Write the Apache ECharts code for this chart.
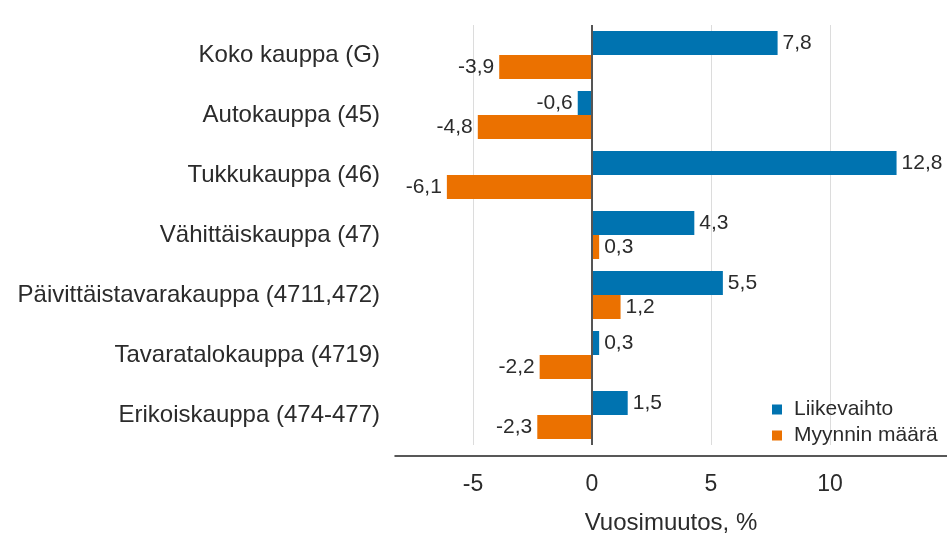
<!DOCTYPE html>
<html>
<head>
<meta charset="utf-8">
<script src="https://cdn.jsdelivr.net/npm/echarts@6/dist/echarts.min.js"></script>
<style>
  html, body { margin: 0; padding: 0; background: #fff; }
  #chart { width: 947px; height: 533px; }
</style>
</head>
<body>
<div id="chart"></div>
<script>
// toimialat ylhäältä alas
var categories = [
    'Koko kauppa (G)',
    'Autokauppa (45)',
    'Tukkukauppa (46)',
    'Vähittäiskauppa (47)',
    'Päivittäistavarakauppa (4711,472)',
    'Tavaratalokauppa (4719)',
    'Erikoiskauppa (474-477)'
];
var liikevaihto = [7.8, -0.6, 12.8, 4.3, 5.5, 0.3, 1.5];
var myynninMaara = [-3.9, -4.8, -6.1, 0.3, 1.2, -2.2, -2.3];
var seriesNames = ['Liikevaihto', 'Myynnin määrä'];
var axisTitle = 'Vuosimuutos, %';

var fontFamily = '"Liberation Sans", Arial, sans-serif';

function toItems(vals) {
    return vals.map(function (v) {
        return { value: v, label: { position: v < 0 ? 'left' : 'right' } };
    });
}

function fmt(v) {
    return String(v).replace('.', ',');
}

var barLabel = {
    show: true,
    distance: 5,
    color: '#2b2b2b',
    fontSize: 21,
    fontFamily: fontFamily,
    formatter: function (p) { return fmt(p.value); }
};

var chart = echarts.init(document.getElementById('chart'));
chart.setOption({
    animation: false,
    color: ['#0073b0', '#eb7100'],
    grid: { left: 395, right: 0, top: 25, height: 420, outerBoundsMode: 'none' },
    legend: {
        orient: 'vertical',
        left: 767,
        top: 394,
        itemWidth: 10,
        itemHeight: 10,
        itemGap: 5,
        icon: 'rect',
        textStyle: { color: '#2b2b2b', fontSize: 21, fontFamily: fontFamily, padding: [0, 0, 0, 7] },
        data: seriesNames
    },
    xAxis: {
        type: 'value',
        min: -8.28,
        max: 14.92,
        offset: 11,
        name: axisTitle,
        nameLocation: 'middle',
        nameGap: 55,
        nameTextStyle: { color: '#2b2b2b', fontSize: 24, fontFamily: fontFamily },
        axisLine: { show: true, lineStyle: { color: '#222', width: 1.5 } },
        axisTick: { show: false },
        axisLabel: {
            color: '#2b2b2b',
            fontSize: 23,
            fontFamily: fontFamily,
            margin: 17,
            showMinLabel: false,
            showMaxLabel: false
        },
        splitLine: {
            show: true,
            showMinLine: false,
            showMaxLine: false,
            lineStyle: { color: '#dcdcdc', width: 1 }
        }
    },
    yAxis: {
        type: 'category',
        inverse: true,
        data: categories,
        axisLine: { show: false },
        axisTick: { show: false },
        axisLabel: { color: '#2b2b2b', fontSize: 24, fontFamily: fontFamily, margin: 15 }
    },
    series: [
        {
            name: seriesNames[0],
            type: 'bar',
            barWidth: 24,
            barGap: '0%',
            label: barLabel,
            data: toItems(liikevaihto),
            markLine: {
                silent: true,
                symbol: 'none',
                label: { show: false },
                lineStyle: { color: '#555', width: 2, type: 'solid' },
                data: [{ xAxis: 0 }]
            }
        },
        {
            name: seriesNames[1],
            type: 'bar',
            barWidth: 24,
            barGap: '0%',
            label: barLabel,
            data: toItems(myynninMaara)
        }
    ]
});
</script>
</body>
</html>
